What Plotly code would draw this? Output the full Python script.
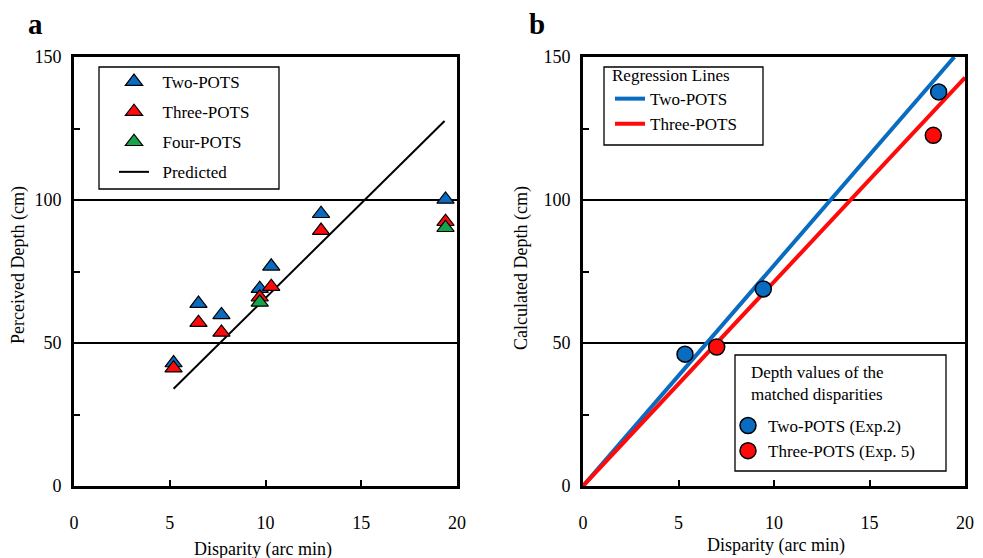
import plotly.graph_objects as go

# ---------------- data ----------------
# Panel a: perceived depth vs disparity
two_x = [5.2, 6.5, 7.7, 9.7, 10.3, 12.9, 19.4]
two_y = [43.0, 63.8, 59.8, 69.0, 76.8, 95.2, 100.2]
three_x = [5.2, 6.5, 7.7, 9.7, 10.3, 12.9, 19.4]
three_y = [41.2, 57.1, 53.7, 66.0, 69.7, 89.3, 92.4]
four_x = [9.7, 19.4]
four_y = [64.2, 90.3]
pred_x = [5.2, 19.35]
pred_y = [34.0, 127.6]

# Panel b: calculated depth vs disparity
reg_two_x = [0, 19.44]
reg_two_y = [0, 150]
reg_three_x = [0, 20]
reg_three_y = [0, 142.8]
exp2_x = [5.34, 9.44, 18.62]
exp2_y = [46.1, 68.9, 137.8]
exp5_x = [7.0, 18.34]
exp5_y = [48.6, 122.6]

x_ticks = [0, 5, 10, 15, 20]
y_ticks = [0, 25, 50, 75, 100, 125, 150]
y_ticktext = ["0", "", "50", "", "100", "", "150"]

BLUE = "#0A6CC0"
RED = "#FF0A0A"
GREEN = "#16A34A"
FONT = "'Times New Roman', 'Liberation Serif', 'DejaVu Serif', serif"
OFF = 8            # page body margin
W, H = 983 - OFF, 558 - OFF
SP = "&nbsp;&nbsp;"

def px(x):
    return (x - OFF) / W

def py(y):
    return 1 - (y - OFF) / H

fig = go.Figure()

tri = dict(symbol="triangle-up", size=15, line=dict(color="black", width=1.2))

fig.add_trace(go.Scatter(x=pred_x, y=pred_y, mode="lines", name=SP + "Predicted",
                         line=dict(color="black", width=2), xaxis="x", yaxis="y",
                         legend="legend", legendgroup="p", legendrank=4))
fig.add_trace(go.Scatter(x=two_x, y=two_y, mode="markers", name=SP + "Two-POTS",
                         marker=dict(color=BLUE, **tri), xaxis="x", yaxis="y",
                         legend="legend", legendgroup="t2", legendrank=1))
fig.add_trace(go.Scatter(x=three_x, y=three_y, mode="markers", name=SP + "Three-POTS",
                         marker=dict(color=RED, **tri), xaxis="x", yaxis="y",
                         legend="legend", legendgroup="t3", legendrank=2))
fig.add_trace(go.Scatter(x=four_x, y=four_y, mode="markers", name=SP + "Four-POTS",
                         marker=dict(color=GREEN, **tri), xaxis="x", yaxis="y",
                         legend="legend", legendgroup="t4", legendrank=3))

fig.add_trace(go.Scatter(x=reg_two_x, y=reg_two_y, mode="lines", name="Two-POTS",
                         line=dict(color=BLUE, width=4), xaxis="x2", yaxis="y2",
                         legend="legend2", legendrank=1))
fig.add_trace(go.Scatter(x=reg_three_x, y=reg_three_y, mode="lines", name="Three-POTS",
                         line=dict(color=RED, width=4), xaxis="x2", yaxis="y2",
                         legend="legend2", legendrank=2))
circ = dict(symbol="circle", size=16, line=dict(color="black", width=1.5))
fig.add_trace(go.Scatter(x=exp2_x, y=exp2_y, mode="markers", name="Two-POTS (Exp.2)",
                         marker=dict(color=BLUE, **circ), xaxis="x2", yaxis="y2",
                         legend="legend3", legendrank=1))
fig.add_trace(go.Scatter(x=exp5_x, y=exp5_y, mode="markers", name="Three-POTS (Exp. 5)",
                         marker=dict(color=RED, **circ), xaxis="x2", yaxis="y2",
                         legend="legend3", legendrank=2))

axis_common = dict(
    showline=True, linecolor="black", linewidth=3, mirror=True, automargin=False,
    showgrid=False, zeroline=False, ticks="inside", ticklen=6, tickwidth=2,
    tickcolor="black", tickfont=dict(family=FONT, size=18, color="black"),
)

xa = dict(domain=[px(74), px(457)], range=[0, 20], tickvals=x_ticks,
          ticklabelstandoff=18, **axis_common)
ya = dict(domain=[py(486), py(57)], range=[0, 150], tickvals=y_ticks,
          ticktext=y_ticktext, ticklabelstandoff=6, **axis_common)
xb = dict(xa, domain=[px(583), px(965)])
yb = dict(ya)

fig.update_layout(
    width=W, height=H, margin=dict(l=0, r=0, t=0, b=0, autoexpand=False),
    paper_bgcolor="white", plot_bgcolor="white",
    font=dict(family=FONT, size=17, color="black"),
    xaxis=dict(xa, anchor="y"), yaxis=dict(ya, anchor="x"),
    xaxis2=dict(xb, anchor="y2"), yaxis2=dict(yb, anchor="x2"),
    legend=dict(x=px(114), y=py(64), xanchor="left", yanchor="top",
                bgcolor="rgba(0,0,0,0)", borderwidth=0, tracegroupgap=5,
                font=dict(family=FONT, size=17)),
    legend2=dict(x=px(610), y=py(59), xanchor="left", yanchor="top",
                 bgcolor="rgba(0,0,0,0)", borderwidth=0,
                 title=dict(text="Regression Lines", font=dict(family=FONT, size=17)),
                 font=dict(family=FONT, size=17)),
    legend3=dict(x=px(728), y=py(408), xanchor="left", yanchor="top",
                 bgcolor="rgba(0,0,0,0)", borderwidth=0,
                 font=dict(family=FONT, size=17)),
    showlegend=True,
)

shapes = []
# horizontal reference lines at 50 and 100
for xr, yr in (("x", "y"), ("x2", "y2")):
    for v in (50, 100):
        shapes.append(dict(type="line", xref=xr + " domain", yref=yr, x0=0, x1=1,
                           y0=v, y1=v, line=dict(color="black", width=2), layer="below"))
# legend boxes
for (x0, y0, x1, y1) in ((99, 67, 279, 189), (604, 67, 763, 145), (735, 355, 946, 471)):
    shapes.append(dict(type="rect", xref="paper", yref="paper",
                       x0=px(x0), x1=px(x1), y0=py(y1), y1=py(y0),
                       line=dict(color="black", width=1.3), fillcolor="rgba(0,0,0,0)"))
fig.update_layout(shapes=shapes)

def note(text, x, y, size=18, angle=0, xanchor="center", align="center"):
    return dict(text=text, x=px(x), y=py(y), xref="paper", yref="paper",
                xanchor=xanchor, yanchor="middle", align=align,
                showarrow=False, textangle=angle,
                font=dict(family=FONT, size=size, color="black"))

ann = [
    note("<b>a</b>", 35, 24, size=29),
    note("<b>b</b>", 537, 24, size=29),
    note("Disparity (arc min)", 263, 549),
    note("Disparity (arc min)", 776, 545),
    note("Perceived Depth (cm)", 18, 265, angle=-90),
    note("Calculated Depth (cm)", 522, 268, angle=-90),
    note("Depth values of the<br>matched disparities", 749, 383, size=17,
         xanchor="left", align="left"),
]
fig.update_layout(annotations=ann)

fig.write_html("out.html")
